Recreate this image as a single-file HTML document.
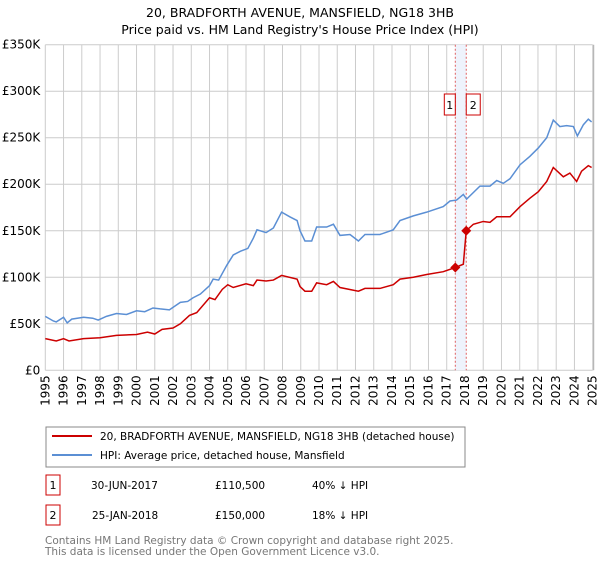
<!DOCTYPE html>
<html><head><meta charset="utf-8"><style>
body{margin:0;background:#fff;font-family:"Liberation Sans","DejaVu Sans",sans-serif;}
svg text{font-family:"DejaVu Sans","Liberation Sans",sans-serif;}
</style></head><body>
<svg id="c" width="600" height="560" xmlns="http://www.w3.org/2000/svg">
<text x="300" y="17" text-anchor="middle" font-size="12.5">20, BRADFORTH AVENUE, MANSFIELD, NG18 3HB</text>
<text x="300" y="34" text-anchor="middle" font-size="12.5">Price paid vs. HM Land Registry's House Price Index (HPI)</text>
<g id="grid"></g><g id="band"></g><g id="lines"></g><g id="ax"></g>
<rect x="46" y="427" width="419" height="40" fill="none" stroke="#888"/>
<line x1="52" y1="436" x2="92" y2="436" stroke="#cc0000" stroke-width="2"/>
<text x="100" y="440" font-size="10.5">20, BRADFORTH AVENUE, MANSFIELD, NG18 3HB (detached house)</text>
<line x1="52" y1="455" x2="92" y2="455" stroke="#5b8fd4" stroke-width="2"/>
<text x="100" y="459" font-size="10.5">HPI: Average price, detached house, Mansfield</text>
<rect x="46" y="475" width="14" height="20" fill="none" stroke="#cc0000"/>
<text x="53" y="489" text-anchor="middle" font-size="11">1</text>
<text x="91" y="489" font-size="10.5">30-JUN-2017</text>
<text x="215" y="489" font-size="10.5">£110,500</text>
<text x="312" y="489" font-size="10.5">40% ↓ HPI</text>
<rect x="46" y="505" width="14" height="20" fill="none" stroke="#cc0000"/>
<text x="53" y="519" text-anchor="middle" font-size="11">2</text>
<text x="92" y="519" font-size="10.5">25-JAN-2018</text>
<text x="215" y="519" font-size="10.5">£150,000</text>
<text x="312" y="519" font-size="10.5">18% ↓ HPI</text>
<text x="45" y="544" font-size="10.5" fill="#777">Contains HM Land Registry data © Crown copyright and database right 2025.</text>
<text x="45" y="555" font-size="10.5" fill="#777">This data is licensed under the Open Government Licence v3.0.</text>
</svg>
<script>
const yTicks=[0,50000,100000,150000,200000,250000,300000,350000];
const yTickLabels=["£0","£50K","£100K","£150K","£200K","£250K","£300K","£350K"];
const xYears=[1995,1996,1997,1998,1999,2000,2001,2002,2003,2004,2005,2006,2007,2008,2009,2010,2011,2012,2013,2014,2015,2016,2017,2018,2019,2020,2021,2022,2023,2024,2025];
const hpiYears=[1995.0,1995.44,1995.6,1996.0,1996.2,1996.45,1997.1,1997.6,1997.9,1998.35,1998.9,1999.45,2000.0,2000.45,2000.9,2001.3,2001.8,2002.4,2002.8,2003.1,2003.5,2004.0,2004.2,2004.5,2004.95,2005.3,2005.7,2006.1,2006.4,2006.6,2007.1,2007.5,2007.95,2008.4,2008.8,2008.96,2009.23,2009.6,2009.87,2010.42,2010.79,2011.15,2011.7,2012.16,2012.52,2013.34,2014.07,2014.44,2015.17,2015.9,2016.81,2017.18,2017.54,2017.91,2018.09,2018.82,2019.37,2019.74,2020.1,2020.47,2021.02,2021.56,2022.02,2022.48,2022.84,2023.2,2023.57,2023.94,2024.16,2024.49,2024.76,2024.94];
const hpiValues=[58,53,52,57,51,55,57,56,54,58,61,60,64,63,67,66,65,73,74,78,82,91,98,97,113,124,128,131,142,151,148,153,170,165,161,150,139,139,154,154,157,145,146,139,146,146,151,161,166,170,176,182,183,189,184,198,198,204,201,206,221,230,239,250,269,262,263,262,252,264,270,267];
const ppYears=[1995.0,1995.6,1996.0,1996.3,1997.1,1998.0,1998.9,2000.0,2000.6,2001.0,2001.4,2002.0,2002.4,2002.9,2003.3,2004.0,2004.3,2004.7,2005.0,2005.3,2006.0,2006.4,2006.6,2007.1,2007.5,2007.95,2008.8,2008.96,2009.23,2009.6,2009.87,2010.42,2010.79,2011.15,2012.16,2012.52,2013.34,2014.07,2014.44,2015.17,2015.9,2016.81,2017.47,2017.91,2018.07,2018.46,2019.0,2019.37,2019.74,2020.47,2021.02,2021.56,2022.02,2022.48,2022.84,2023.39,2023.75,2024.12,2024.39,2024.76,2024.94];
const ppValues=[34,31.5,34,31.5,34,35,37.5,38.5,41,39,44,45.5,50,59,62,78,76,87,92,89,93,91,97,96,97,102,98,90,85,85,94,92,95.5,89,85,88,88,92,98,100,103,106,110.5,114,150,157,160,159,165,165,176,185,192,203,218,208,212,203,214,220,218];
const saleYears=[2017.47,2018.07];
const saleValues=[110.5,150];
const saleLabels=["1","2"];
const X0=45.3,X1=592.7,Y0=370.3,Y1=44.7;
const sx=y=>X0+(y-1995)/30*(X1-X0);
const sy=v=>Y0-v/350000*(Y0-Y1);
const NS="http://www.w3.org/2000/svg";
function mk(p,t,a){const e=document.createElementNS(NS,t);for(const k in a)e.setAttribute(k,a[k]);p.appendChild(e);return e;}
const grid=document.getElementById('grid'),ax=document.getElementById('ax'),band=document.getElementById('band'),lines=document.getElementById('lines');
yTicks.forEach((t,i)=>{
 const l=mk(grid,'line',{x1:X0,x2:X1,y1:sy(t),y2:sy(t),stroke:'#ccc'});
 
 
 const tx=mk(ax,'text',{x:X0-5,y:sy(t)+4,'text-anchor':'end','font-size':'12'});
 tx.textContent=yTickLabels[i];
 
 
});
xYears.forEach(yr=>{
 const l=mk(grid,'line',{x1:sx(yr),x2:sx(yr),y1:Y1,y2:Y0,stroke:'#ccc'});
 
 
 const tx=mk(ax,'text',{transform:`translate(${sx(yr)+4},${Y0+5}) rotate(-90)`,'text-anchor':'end','font-size':'12'});
 tx.textContent=yr;
 
 
});
const b=mk(band,'rect',{x:sx(saleYears[0]),y:Y1,width:sx(saleYears[1])-sx(saleYears[0]),height:Y0-Y1,fill:'#eef3fc'});


saleYears.forEach((yr,i)=>{
 const l=mk(band,'line',{x1:sx(yr),x2:sx(yr),y1:Y1,y2:Y0,stroke:'#e06060','stroke-dasharray':'2,2'});
 
 
});
const hp=mk(lines,'polyline',{points:hpiYears.map((y,i)=>sx(y)+','+sy(hpiValues[i]*1000)).join(' '),fill:'none',stroke:'#5b8fd4','stroke-width':1.5});


const pp=mk(lines,'polyline',{points:ppYears.map((y,i)=>sx(y)+','+sy(ppValues[i]*1000)).join(' '),fill:'none',stroke:'#cc0000','stroke-width':1.5});


saleYears.forEach((yr,i)=>{
 const cx=sx(yr),cy=sy(saleValues[i]*1000);
 const d=mk(lines,'polygon',{points:`${cx},${cy-5} ${cx+5},${cy} ${cx},${cy+5} ${cx-5},${cy}`,fill:'#cc0000'});
 
 
 const bx=i===0?cx-11:cx;
 const r=mk(lines,'rect',{x:bx,y:94,width:11+(i?3:0),height:21,fill:'#fff',stroke:'#cc0000'});
 
 
 const t=mk(lines,'text',{x:bx+(i?7:5.5),y:109,'text-anchor':'middle','font-size':'11'});
 t.textContent=saleLabels[i];
 
 
});
const ra=mk(ax,'line',{x1:X1+1,x2:X1+1,y1:Y1,y2:Y0,stroke:'#aaa'});


</script>
</body></html>
